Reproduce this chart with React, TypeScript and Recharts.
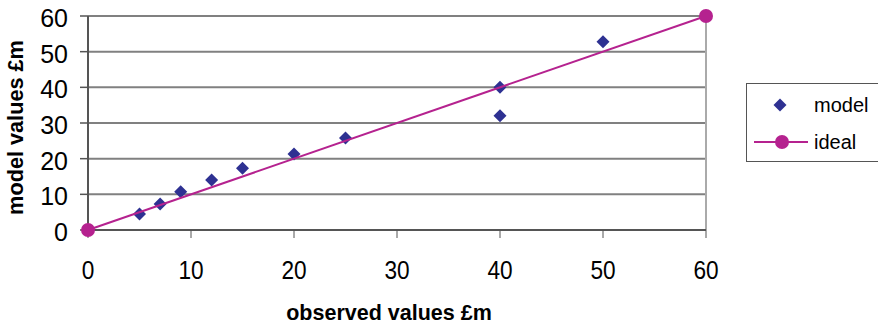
import React from 'react';
import { ScatterChart, Scatter, XAxis, YAxis, CartesianGrid, ReferenceLine } from 'recharts';

const observed = [5, 7, 9, 12, 15, 20, 25, 40, 40, 50];
const modelValues = [4.5, 7.3, 10.7, 14, 17.3, 21.3, 25.8, 40, 32, 52.8];
const idealX = [0, 60];
const idealY = [0, 60];
const axisTicks = [0, 10, 20, 30, 40, 50, 60];
const seriesNames = ['model', 'ideal'];

const modelData = observed.map((x, i) => ({ x, y: modelValues[i] }));
const idealData = idealX.map((x, i) => ({ x, y: idealY[i] }));

const FONT = '"Liberation Sans", Arial, Helvetica, sans-serif';
const BLUE = '#2E3192';
const MAGENTA = '#B5228F';

const Diamond = (props: any) => {
  const { cx, cy } = props;
  const r = 6.5;
  return <path d={`M${cx},${cy - r} L${cx + r},${cy} L${cx},${cy + r} L${cx - r},${cy} Z`} fill={BLUE} />;
};

const Dot = (props: any) => {
  const { cx, cy } = props;
  return <circle cx={cx} cy={cy} r={7} fill={MAGENTA} />;
};

const XTick = (props: any) => {
  const { x, payload } = props;
  const s = String(payload.value);
  return (
    <text x={x} y={279} textAnchor="middle" fontFamily={FONT} fontSize={26} fill="#000"
      textLength={s.length * 12.6} lengthAdjust="spacingAndGlyphs">{s}</text>
  );
};

const YTick = (props: any) => {
  const { y, payload } = props;
  return (
    <text x={68} y={y + 11} textAnchor="end" fontFamily={FONT} fontSize={25} fill="#000">{payload.value}</text>
  );
};

const LegendBox = () => (
  <div style={{ position: 'absolute', left: 746, top: 83, width: 132, height: 79, border: '1px solid #555', borderRightWidth: 0, boxSizing: 'border-box', background: '#fff' }}>
    <svg width={132} height={79} style={{ display: 'block', position: 'absolute', left: -1, top: -1 }}>
      <path d="M34,15.5 L40.5,22 L34,28.5 L27.5,22 Z" fill={BLUE} />
      <text x={68} y={29} fontFamily={FONT} fontSize={20} fill="#000">{seriesNames[0]}</text>
      <line x1={8} y1={59} x2={62} y2={59} stroke={MAGENTA} strokeWidth={2} />
      <circle cx={36} cy={59} r={7} fill={MAGENTA} />
      <text x={68} y={66} fontFamily={FONT} fontSize={20} fill="#000">{seriesNames[1]}</text>
    </svg>
  </div>
);

export default function App() {
  return (
    <div style={{ position: 'absolute', left: 0, top: 0, width: 878, height: 328, background: '#fff' }}>
      <ScatterChart width={878} height={328} margin={{ top: 16, right: 172, bottom: 0, left: 28 }}>
        <CartesianGrid horizontal vertical={false} stroke="#808080" strokeWidth={2} />
        <XAxis type="number" dataKey="x" domain={[0, 60]} ticks={axisTicks} height={98}
          tickSize={8} tickLine={{ stroke: '#555' }} axisLine={{ stroke: '#555', strokeWidth: 2 }}
          tick={<XTick />} interval={0} />
        <YAxis type="number" dataKey="y" domain={[0, 60]} ticks={axisTicks} width={60}
          tickSize={8} tickLine={{ stroke: '#555', strokeWidth: 1.5 }} axisLine={{ stroke: '#555', strokeWidth: 2 }}
          tick={<YTick />} interval={0} />
        <ReferenceLine x={60} stroke="#aaa" strokeWidth={2} />
        <Scatter name={seriesNames[0]} data={modelData} shape={<Diamond />} isAnimationActive={false} />
        <Scatter name={seriesNames[1]} data={idealData} shape={<Dot />} line={{ stroke: MAGENTA, strokeWidth: 2 }} lineType="joint" isAnimationActive={false} />
        <text x={389} y={320} textAnchor="middle" fontFamily={FONT} fontSize={21.5} fontWeight="bold" fill="#000">observed values £m</text>
        <text x={23} y={127.5} textAnchor="middle" fontFamily={FONT} fontSize={21.7} fontWeight="bold" fill="#000" transform="rotate(-90 23 127.5)">model values £m</text>
      </ScatterChart>
      <LegendBox />
    </div>
  );
}
